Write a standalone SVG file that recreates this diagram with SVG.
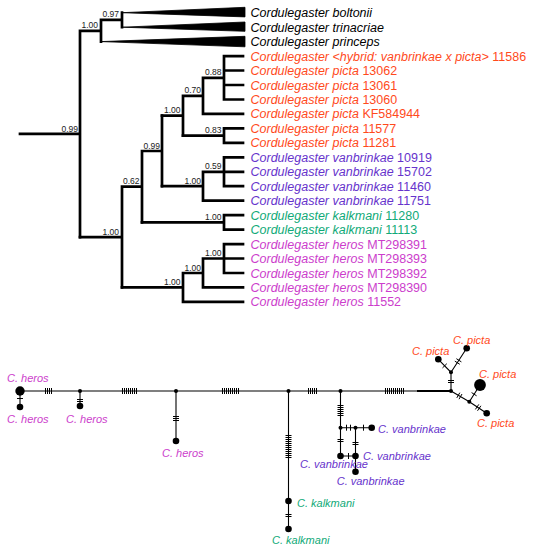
<svg xmlns="http://www.w3.org/2000/svg" width="534" height="550" viewBox="0 0 534 550">
<style>
text{font-family:"Liberation Sans",Arial,sans-serif}
.tip{font-size:12.5px}
.i{font-style:italic}
.sup{font-size:8.5px;fill:#222;text-anchor:end}
.br{fill:none;stroke:#000;stroke-width:2.7;stroke-linecap:square}
.net{fill:none;stroke:#000;stroke-width:1.1}
.tk{fill:none;stroke:#000;stroke-width:1}
.nl{font-size:11px;font-style:italic}
.or{fill:#FF4A1C}.pu{fill:#6633CC}.gr{fill:#10AA78}.mg{fill:#CC3DCC}.bk{fill:#000}
</style>
<g id="tree-connectors">
<path class="br" d="M20 133.9H80M80 30.8V237.1M80 30.8H101M101 19.9V41.6M101 19.9H122M122 12.7V27.2"/>
<path class="br" d="M80 237.1H122M122 186.7V287.4M122 186.7H142M142 151V222.4M142 151H162M162 115.7V186.2"/>
<path class="br" d="M162 115.7H183M183 95.8V135.6M183 95.8H203M203 77.8V113.9M203 77.8H224M224 56.1V99.5M224 56.1H243M224 70.5H243M224 85H243M224 99.5H243M203 113.9H243"/>
<path class="br" d="M183 135.6H224M224 128.4V142.8M224 128.4H243M224 142.8H243"/>
<path class="br" d="M162 186.2H203M203 171.8V200.7M203 171.8H224M224 157.3V186.2M224 157.3H243M224 171.8H243M224 186.2H243M203 200.7H243"/>
<path class="br" d="M142 222.4H224M224 215.1V229.6M224 215.1H243M224 229.6H243"/>
<path class="br" d="M122 287.4H183M183 273V301.9M183 273H203M203 258.5V287.4M203 258.5H224M224 244.1V273M224 244.1H243M224 258.5H243M224 273H243M203 287.4H243M183 301.9H243"/>
<polygon points="122,12.7 245,7.3 245,16.9" fill="#000" stroke="#000" stroke-width="0.8"/>
<polygon points="122,27.2 245,22 245,31.3" fill="#000" stroke="#000" stroke-width="0.8"/>
<polygon points="101,41.6 245,36.3 245,46.8" fill="#000" stroke="#000" stroke-width="0.8"/>
</g>
<g id="supports">
<text class="sup" x="78" y="131.5">0.99</text>
<text class="sup" x="98" y="28.3">1.00</text>
<text class="sup" x="119" y="17.4">0.97</text>
<text class="sup" x="119" y="234.6">1.00</text>
<text class="sup" x="139.5" y="184.2">0.62</text>
<text class="sup" x="160" y="148.5">0.99</text>
<text class="sup" x="180.5" y="113.2">1.00</text>
<text class="sup" x="201" y="93.3">0.70</text>
<text class="sup" x="221.5" y="75.3">0.88</text>
<text class="sup" x="221.5" y="133.1">0.83</text>
<text class="sup" x="201" y="183.7">1.00</text>
<text class="sup" x="221.5" y="169.3">0.59</text>
<text class="sup" x="221.5" y="219.9">1.00</text>
<text class="sup" x="180.5" y="284.9">1.00</text>
<text class="sup" x="201" y="270.5">1.00</text>
<text class="sup" x="221.5" y="256">1.00</text>
</g>
<g id="tips" class="tip">
<text x="250.5" y="17.2" class="bk"><tspan class="i">Cordulegaster boltonii</tspan></text>
<text x="250.5" y="31.7" class="bk"><tspan class="i">Cordulegaster trinacriae</tspan></text>
<text x="250.5" y="46.1" class="bk"><tspan class="i">Cordulegaster princeps</tspan></text>
<text x="250.5" y="60.6" class="or"><tspan class="i">Cordulegaster &lt;hybrid: vanbrinkae x picta&gt;</tspan> 11586</text>
<text x="250.5" y="75" class="or"><tspan class="i">Cordulegaster picta</tspan> 13062</text>
<text x="250.5" y="89.5" class="or"><tspan class="i">Cordulegaster picta</tspan> 13061</text>
<text x="250.5" y="104" class="or"><tspan class="i">Cordulegaster picta</tspan> 13060</text>
<text x="250.5" y="118.4" class="or"><tspan class="i">Cordulegaster picta</tspan> KF584944</text>
<text x="250.5" y="132.9" class="or"><tspan class="i">Cordulegaster picta</tspan> 11577</text>
<text x="250.5" y="147.3" class="or"><tspan class="i">Cordulegaster picta</tspan> 11281</text>
<text x="250.5" y="161.8" class="pu"><tspan class="i">Cordulegaster vanbrinkae</tspan> 10919</text>
<text x="250.5" y="176.3" class="pu"><tspan class="i">Cordulegaster vanbrinkae</tspan> 15702</text>
<text x="250.5" y="190.7" class="pu"><tspan class="i">Cordulegaster vanbrinkae</tspan> 11460</text>
<text x="250.5" y="205.2" class="pu"><tspan class="i">Cordulegaster vanbrinkae</tspan> 11751</text>
<text x="250.5" y="219.6" class="gr"><tspan class="i">Cordulegaster kalkmani</tspan> 11280</text>
<text x="250.5" y="234.1" class="gr"><tspan class="i">Cordulegaster kalkmani</tspan> 11113</text>
<text x="250.5" y="248.6" class="mg"><tspan class="i">Cordulegaster heros</tspan> MT298391</text>
<text x="250.5" y="263" class="mg"><tspan class="i">Cordulegaster heros</tspan> MT298393</text>
<text x="250.5" y="277.5" class="mg"><tspan class="i">Cordulegaster heros</tspan> MT298392</text>
<text x="250.5" y="291.9" class="mg"><tspan class="i">Cordulegaster heros</tspan> MT298390</text>
<text x="250.5" y="306.4" class="mg"><tspan class="i">Cordulegaster heros</tspan> 11552</text>
</g>
<g id="network-connectors">
<path class="net" d="M20 391H451"/>
<path fill="none" stroke="#000" stroke-width="1.8" d="M417 391H451"/>
<path class="net" d="M20 391V407M80 391V406M176 391V441M288.5 391V529M340.5 391V456M340.5 427.7H371.7M355.5 427.7V471.7M340.5 456H355.5M451 391V372.3L438.3 359.3M451 372.3L466.7 348.3M451 391L469.3 401.7L480 385M469.3 401.7L486.7 413.3"/>
<path class="tk" d="M45.5 388v6M47.5 388v6M49.5 388v6M51.5 388v6
M122.5 388v6M124.5 388v6M126.5 388v6M128.5 388v6M130.5 388v6M132.5 388v6M134.5 388v6M136.5 388v6
M222.5 388v6M224.5 388v6M226.5 388v6M228.5 388v6M230.5 388v6M232.5 388v6M234.5 388v6M236.5 388v6M238.5 388v6
M308.5 388v6M310.5 388v6M312.5 388v6M314.5 388v6M316.5 388v6
M385.5 388v6M387.5 388v6M389.5 388v6M391.5 388v6M393.5 388v6M395.5 388v6M397.5 388v6M399.5 388v6M401.5 388v6M403.5 388v6
M17 398.5h6M77 399.5h6M77 401.5h6M173 416.5h6M173 418.5h6M173 420.5h6
M285.5 435.5h6M285.5 437.5h6M285.5 439.5h6M285.5 441.5h6M285.5 443.5h6M285.5 445.5h6M285.5 447.5h6M285.5 449.5h6M285.5 451.5h6M285.5 453.5h6M285.5 455.5h6M285.5 457.5h6
M285.5 514.5h6M285.5 516.5h6
M337.5 405.5h6M337.5 407.5h6M337.5 409.5h6M337.5 411.5h6M337.5 413.5h6M337.5 415.5h6
M346.5 424.7v6M350.5 424.7v6M363.5 424.7v6
M337.5 439.5h6M337.5 441.5h6M352.5 442.5h6M352.5 444.5h6M348.5 453v6
M448 380.5h6M448 382.5h6
M442.5 367.9L446.8 363.7M454.8 361.1L459.8 364.3M456.4 358.7L461.4 361.9
M456.8 397.9L459.8 392.7M459 399.2L462 394
M471.6 392.6L476.6 395.8
M475.4 409.4L478.8 404.4M477.5 410.8L480.9 405.8"/>
</g>
<g id="network-nodes" fill="#000">
<circle cx="20" cy="391" r="4.7"/>
<circle cx="20" cy="407" r="3.3"/>
<circle cx="80" cy="391" r="2"/>
<circle cx="80" cy="406" r="3.3"/>
<circle cx="176" cy="391" r="2"/>
<circle cx="176" cy="441" r="3.3"/>
<circle cx="288.5" cy="391" r="2"/>
<circle cx="288.5" cy="501" r="3.3"/>
<circle cx="288.5" cy="529" r="3.3"/>
<circle cx="340.5" cy="391" r="2"/>
<circle cx="340.5" cy="427.7" r="2"/>
<circle cx="355.5" cy="427.7" r="2"/>
<circle cx="371.7" cy="427.7" r="3.3"/>
<circle cx="340.5" cy="456" r="3.3"/>
<circle cx="355.5" cy="456" r="3.3"/>
<circle cx="355.5" cy="471.7" r="3.3"/>
<circle cx="451" cy="391" r="2"/>
<circle cx="451" cy="372.3" r="2"/>
<circle cx="438.3" cy="359.3" r="3.3"/>
<circle cx="466.7" cy="348.3" r="3.3"/>
<circle cx="469.3" cy="401.7" r="2"/>
<circle cx="480" cy="385" r="5.9"/>
<circle cx="486.7" cy="413.3" r="3.3"/>
</g>
<g id="network-labels" class="nl">
<text class="mg" x="7" y="382">C. heros</text>
<text class="mg" x="7" y="423">C. heros</text>
<text class="mg" x="66" y="423">C. heros</text>
<text class="mg" x="162" y="457">C. heros</text>
<text class="gr" x="297" y="507">C. kalkmani</text>
<text class="gr" x="272" y="544">C. kalkmani</text>
<text class="pu" x="378" y="433">C. vanbrinkae</text>
<text class="pu" x="363" y="460">C. vanbrinkae</text>
<text class="pu" x="300" y="468">C. vanbrinkae</text>
<text class="pu" x="336.7" y="485">C. vanbrinkae</text>
<text class="or" x="412" y="355">C. picta</text>
<text class="or" x="453" y="344">C. picta</text>
<text class="or" x="479" y="378">C. picta</text>
<text class="or" x="477" y="427">C. picta</text>
</g>
</svg>
